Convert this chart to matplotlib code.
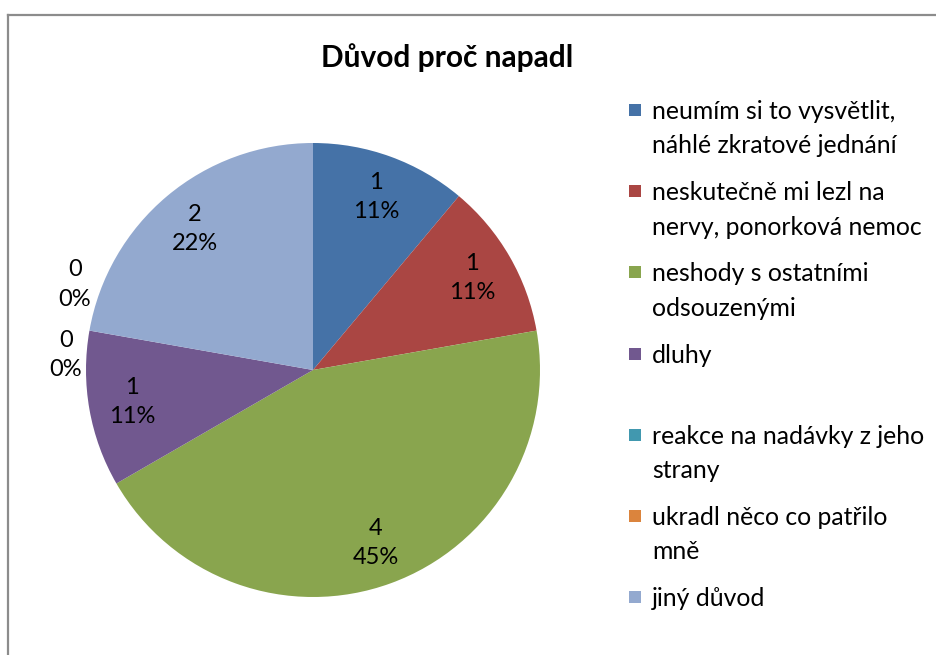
import numpy as np
import matplotlib
matplotlib.use("Agg")
import matplotlib.pyplot as plt
from matplotlib.patches import Rectangle
from matplotlib.lines import Line2D

# ── Data ─────────────────────────────────────────────────────────────────────
TITLE = "Důvod proč napadl"
categories = [
    "neumím si to vysvětlit,\nnáhlé zkratové jednání",
    "neskutečně mi lezl na\nnervy, ponorková nemoc",
    "neshody s ostatními\nodsouzenými",
    "dluhy",
    "reakce na nadávky z jeho\nstrany",
    "ukradl něco co patřilo\nmně",
    "jiný důvod",
]
counts = [1, 1, 4, 1, 0, 0, 2]
pct_labels = ["11%", "11%", "45%", "11%", "0%", "0%", "22%"]
colors = ["#4572A7", "#AA4643", "#89A54E", "#71588F",
          "#4198AF", "#DB843D", "#93A9CF"]

# ── Layout (pixel space of a 936x655 canvas) ─────────────────────────────────
W, H = 936, 655
CX, CY, R = 313, H - 370, 227
FONT = "Lato"
TXT = 17.0
LEG_TXT = 17.8

plt.rcParams["font.family"] = [FONT, "DejaVu Sans"]
fig = plt.figure(figsize=(W / 100, H / 100), dpi=100)
ax = fig.add_axes([0, 0, 1, 1])

# chart-area frame (top + left edges visible, rest cropped)
fig.add_artist(Line2D([8 / W, 8 / W], [0, 1 - 15 / H], transform=fig.transFigure,
                      color="#8c8c8c", lw=1.6))
fig.add_artist(Line2D([8 / W, 1], [1 - 15 / H, 1 - 15 / H], transform=fig.transFigure,
                      color="#8c8c8c", lw=1.6))

wedges, _ = ax.pie(counts, colors=colors, startangle=90, counterclock=False,
                   center=(CX, CY), radius=R, frame=True,
                   wedgeprops=dict(linewidth=0))
ax.set_xlim(0, W); ax.set_ylim(0, H)
ax.axis("off")

# data labels: value + percent (zero slices pushed outside, one above one below)
zero_place = iter([(6.5, 1.09), (-9.7, 1.115)])
for w, n, p in zip(wedges, counts, pct_labels):
    mid = np.deg2rad((w.theta1 + w.theta2) / 2)
    if n == 0:
        dth, k = next(zero_place)
        mid = mid + np.deg2rad(dth)
        rr = k * R
    else:
        rr = 0.81 * R
    x = CX + rr * np.cos(mid)
    y = CY + rr * np.sin(mid)
    ax.text(x, y, f"{n}\n{p}", ha="center", va="center", fontsize=TXT,
            linespacing=1.5, color="black")

# title
ax.text(447, H - 58, TITLE, ha="center", va="center", fontsize=21.5,
        fontweight="bold")

# legend
LEG_X, LEG_Y0, LEG_STEP, SQ = 629, 110, 81.2, 12
for i, (lab, c) in enumerate(zip(categories, colors)):
    y = H - (LEG_Y0 + i * LEG_STEP)
    ax.add_patch(Rectangle((LEG_X, y - SQ / 2), SQ, SQ, color=c, lw=0))
    ax.text(652, y + 10, lab, ha="left", va="top", fontsize=LEG_TXT,
            linespacing=1.6, color="black")

fig.savefig("out.png", dpi=100)
